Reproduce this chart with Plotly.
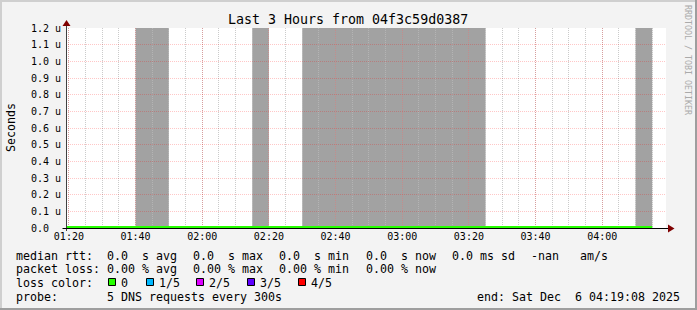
import plotly.graph_objects as go

# ---------------- data ----------------
title_text = "Last 3 Hours from 04f3c59d0387"
y_title = "Seconds"
watermark = "RRDTOOL / TOBI OETIKER"

x_start = "2025-12-06 01:19:08"
x_end = "2025-12-06 04:19:08"
x_tick_times = ["2025-12-06 01:20", "2025-12-06 01:40", "2025-12-06 02:00",
                "2025-12-06 02:20", "2025-12-06 02:40", "2025-12-06 03:00",
                "2025-12-06 03:20", "2025-12-06 03:40", "2025-12-06 04:00"]
x_tick_labels = ["01:20", "01:40", "02:00", "02:20", "02:40", "03:00",
                 "03:20", "03:40", "04:00"]

y_tick_values = [0.0, 0.1, 0.2, 0.3, 0.4, 0.5, 0.6, 0.7, 0.8, 0.9, 1.0, 1.1, 1.2]  # microseconds
y_tick_labels = ["0.0", "0.1 u", "0.2 u", "0.3 u", "0.4 u", "0.5 u", "0.6 u",
                 "0.7 u", "0.8 u", "0.9 u", "1.0 u", "1.1 u", "1.2 u"]

# grey (smoke / unknown) bands
band_start = ["2025-12-06 01:40", "2025-12-06 02:15", "2025-12-06 02:30", "2025-12-06 04:10"]
band_end = ["2025-12-06 01:50", "2025-12-06 02:20", "2025-12-06 03:25", "2025-12-06 04:15"]

# median rtt line (microseconds)
median_time = ["2025-12-06 01:19:08", "2025-12-06 04:15:00"]
median_rtt = [0.0, 0.0]

rtt_stats = ["0.0", "0.0", "0.0", "0.0"]          # avg max min now
rtt_stat_names = ["avg", "max", "min", "now"]
loss_stats = ["0.00", "0.00", "0.00", "0.00"]
rtt_sd = "0.0"
am_s = "-nan"
loss_labels = ["0", "1/5", "2/5", "3/5", "4/5"]
loss_colors = ["#26ff00", "#00b8ff", "#dd00ff", "#5e00ff", "#ff0000"]
probe_text = "5 DNS requests every 300s"
end_text = "end: Sat Dec  6 04:19:08 2025"

# ---------------- layout helpers ----------------
FONT = "DejaVu Sans Mono"
W, H = 697, 310
L, R, T, B = 66, 666, 28, 228
LEG_FS = 11.63
CW = 7.0          # monospace advance at legend size
GLUE = 16.2
MGRID = "rgba(255,0,0,0.22)"
GRID = "rgba(185,185,185,0.75)"
BAND = "#a2a2a2"


def px(x):
    return (x - L) / (R - L)


def py(y):
    return (B - y) / (B - T)


def nb(s):
    return s.replace(" ", "\u00a0")


annotations = []
shapes = []


def ann(x, y, text, size, xanchor="left", yanchor="middle", angle=0, color="#000000"):
    annotations.append(dict(
        x=px(x), y=py(y), xref="paper", yref="paper", text=nb(text),
        showarrow=False, xanchor=xanchor, yanchor=yanchor, textangle=angle,
        borderpad=0, font=dict(family=FONT, size=size, color=color)))


fig = go.Figure()
fig.add_trace(go.Scatter(x=median_time, y=median_rtt, mode="lines",
                         line=dict(color=loss_colors[0], width=4),
                         hoverinfo="skip"))

# grey bands below the grid
for s, e in zip(band_start, band_end):
    shapes.append(dict(type="rect", xref="x", yref="y domain", x0=s, x1=e, y0=0, y1=1,
                       fillcolor=BAND, line=dict(width=0), layer="below"))

# frame
shapes.append(dict(type="rect", xref="paper", yref="paper", x0=px(0), x1=px(W), y0=py(0), y1=py(2),
                   fillcolor="#cfcfcf", line=dict(width=0), layer="above"))
shapes.append(dict(type="rect", xref="paper", yref="paper", x0=px(0), x1=px(2), y0=py(0), y1=py(H),
                   fillcolor="#cfcfcf", line=dict(width=0), layer="above"))
shapes.append(dict(type="rect", xref="paper", yref="paper", x0=px(0), x1=px(W), y0=py(H - 2), y1=py(H),
                   fillcolor="#9e9e9e", line=dict(width=0), layer="above"))
shapes.append(dict(type="rect", xref="paper", yref="paper", x0=px(W - 2), x1=px(W), y0=py(0), y1=py(H),
                   fillcolor="#9e9e9e", line=dict(width=0), layer="above"))

# axes lines and arrows
shapes.append(dict(type="line", xref="paper", yref="paper", x0=px(66.5), x1=px(66.5),
                   y0=py(231), y1=py(25), line=dict(color="#404040", width=1), layer="above"))
shapes.append(dict(type="line", xref="paper", yref="paper", x0=px(62.5), x1=px(668),
                   y0=py(228.5), y1=py(228.5), line=dict(color="#000000", width=1), layer="above"))
shapes.append(dict(type="path", xref="paper", yref="paper",
                   path=f"M {px(668)} {py(224.5)} L {px(674.5)} {py(228.5)} L {px(668)} {py(232.5)} Z",
                   fillcolor="#7f0000", line=dict(width=0), layer="above"))
shapes.append(dict(type="path", xref="paper", yref="paper",
                   path=f"M {px(62.5)} {py(26)} L {px(66.5)} {py(20)} L {px(70.5)} {py(26)} Z",
                   fillcolor="#7f0000", line=dict(width=0), layer="above"))

# title, y title, watermark
ann(347.5, 19.3, title_text, 13.3, xanchor="center")
ann(11, 128, y_title, LEG_FS, xanchor="center", angle=-90)
ann(688, 60, watermark, 8.3, xanchor="center", angle=90, color="#aaaaaa")

# legend lines
BASE = [255.5, 269.3, 283.1, 297.0]


def place_items(items, y, x0=15.0):
    x = x0
    for it in items:
        ann(x, y, it, LEG_FS)
        x += CW * len(it) + GLUE


line1 = ["median rtt:  " + rtt_stats[0] + "  s " + rtt_stat_names[0]]
line1 += [rtt_stats[i] + "  s " + rtt_stat_names[i] for i in range(1, 4)]
line1 += [rtt_sd + " ms sd", am_s + "   am/s"]
place_items(line1, BASE[0])

line2 = ["packet loss: " + loss_stats[0] + " % " + rtt_stat_names[0]]
line2 += [loss_stats[i] + " % " + rtt_stat_names[i] for i in range(1, 4)]
place_items(line2, BASE[1])

ann(15, BASE[2], "loss color:", LEG_FS)
box_x = [108, 146, 196, 247, 298]
for bx, lab, col in zip(box_x, loss_labels, loss_colors):
    shapes.append(dict(type="rect", xref="paper", yref="paper",
                       x0=px(bx + 0.5), x1=px(bx + 7.5), y0=py(285.5), y1=py(278.5),
                       fillcolor=col, line=dict(color="#000000", width=1), layer="above"))
    ann(bx + 11.5, BASE[2], lab, LEG_FS)

ann(15, BASE[3], "probe:       " + probe_text, LEG_FS)
ann(680.5, BASE[3], end_text, LEG_FS, xanchor="right")

fig.update_layout(
    width=W, height=H,
    margin=dict(l=L, r=W - R, t=T, b=H - B, pad=0),
    paper_bgcolor="#f3f3f3", plot_bgcolor="#ffffff",
    showlegend=False,
    font=dict(family=FONT, color="#000000"),
    shapes=shapes, annotations=annotations,
)
fig.update_xaxes(
    type="date", range=[x_start, x_end], tickmode="array",
    tickvals=x_tick_times, ticktext=x_tick_labels,
    showgrid=True, gridcolor=MGRID, griddash="1px,1px", gridwidth=1,
    showline=False, zeroline=False, ticks="", tickfont=dict(family=FONT, size=10, color="#000"),
    ticklabelstandoff=1,
    minor=dict(dtick=300000, tick0="2025-12-06 01:20:00", showgrid=True,
               gridcolor=GRID, griddash="1px,1px", gridwidth=1),
    fixedrange=True,
)
fig.update_yaxes(
    range=[0, 1.2], tickmode="array", tickvals=y_tick_values, ticktext=[nb(t if "u" in t else t + "  ") for t in y_tick_labels],
    showgrid=True, gridcolor=MGRID, griddash="1px,1px", gridwidth=1,
    showline=False, zeroline=False, ticks="", tickfont=dict(family=FONT, size=10, color="#000"),
    ticklabelstandoff=4, fixedrange=True,
)

fig.write_html("out.html", config={"displayModeBar": False})
